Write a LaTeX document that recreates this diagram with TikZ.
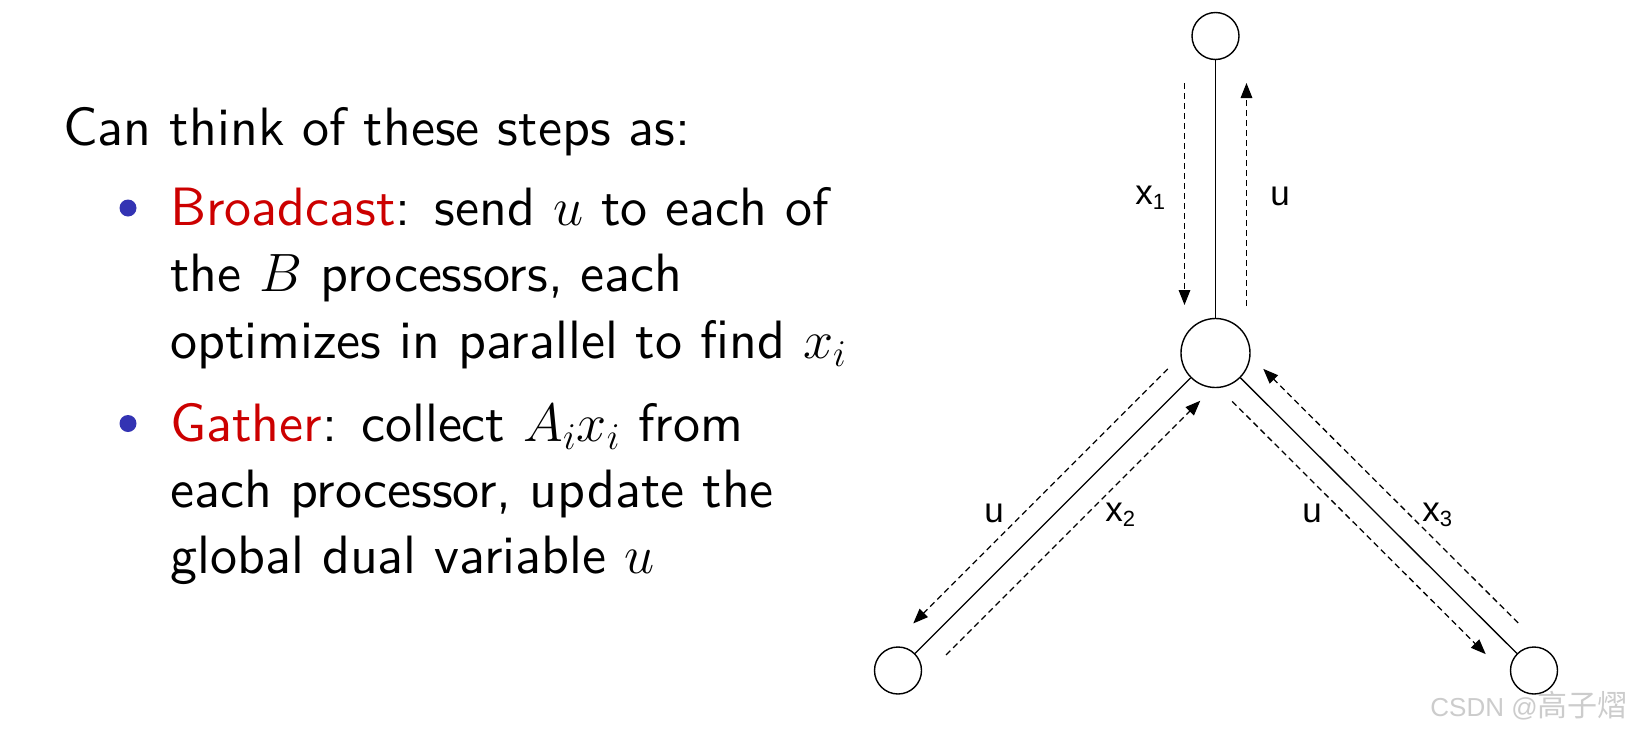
\documentclass[tikz,border=0pt]{standalone}
\usepackage{fix-cm}
\usepackage{fontspec}
\newfontfamily\lab{Liberation Sans}
\newfontfamily\cjk{Noto Sans CJK SC}
\newfontfamily\slidefont{lmsans10-regular}[Extension=.otf]
\usetikzlibrary{calc,arrows.meta}
\definecolor{alertred}{RGB}{204,0,0}
\definecolor{bulletblue}{RGB}{51,51,179}
\newcommand\lsub[1]{\raisebox{-2.5pt}{\fontsize{11}{12}\selectfont #1}}
\tikzset{
  proc/.style={circle, draw, line width=0.7pt, inner sep=0pt, fill=white},
  smallproc/.style={proc, minimum size=23.5pt},
  bigproc/.style={proc, minimum size=34.5pt},
  link/.style={line width=0.65pt},
  msg/.style={line width=0.65pt, dash pattern=on 3pt off 2pt, -{Triangle[length=7.5pt,width=5.8pt]}},
  lbl/.style={anchor=base west, inner sep=0pt, font=\lab\fontsize{17.5}{20}\selectfont},
  txt/.style={anchor=base west, inner sep=0pt, font=\slidefont\fontsize{27}{32}\selectfont},
  bul/.style={circle, fill=bulletblue, minimum size=8.5pt, inner sep=0pt}
}
\begin{document}
\begin{tikzpicture}[x=0.5pt,y=0.5pt]
\fill[white] (0,0) rectangle (1646,-734);
\useasboundingbox (0,0) rectangle (1646,-734);

% left text
\node[txt] (t0) at (63,-145) {Can think of these steps as:};
\node[bul] (bu1) at (128,-208) {};
\node[txt] (b1a) at (170,-225.7) {\textcolor{alertred}{Broadcast}: send $u$ to each of};
\node[txt] (b1b) at (170,-291.8) {the $B$ processors, each};
\node[txt] (b1c) at (170,-358) {optimizes in parallel to find $x_i$};
\node[bul] (bu2) at (128,-423.5) {};
\node[txt] (b2a) at (170,-441) {\textcolor{alertred}{Gather}: collect $A_ix_i$ from};
\node[txt] (b2b) at (170,-507) {each processor, update the};
\node[txt] (b2c) at (170,-573) {global dual variable $u$};

% tree
\node[smallproc] (T) at (1215.5,-36) {};
\node[bigproc] (C) at (1215.5,-353) {};
\node[smallproc] (L) at (898,-670.5) {};
\node[smallproc] (R) at (1534,-670.5) {};

\draw[link] (T) -- (C);
\draw[link] (C) -- (L);
\draw[link] (C) -- (R);

% vertical messages
\draw[msg] ($(C)!135pt!(T)!15.5pt!90:(T)$) -- ($(C)!24pt!(T)!15.5pt!90:(T)$);
\draw[msg] ($(C)!23.5pt!(T)!15.5pt!-90:(T)$) -- ($(C)!135pt!(T)!15.5pt!-90:(T)$);
% left messages
\draw[msg] ($(C)!22.5pt!(L)!11.25pt!-90:(L)$) -- ($(C)!202.5pt!(L)!11.25pt!-90:(L)$);
\draw[msg] ($(C)!202pt!(L)!11.5pt!90:(L)$) -- ($(C)!22.25pt!(L)!11.5pt!90:(L)$);
% right messages
\draw[msg] ($(C)!202.5pt!(R)!11.25pt!90:(R)$) -- ($(C)!22.5pt!(R)!11.25pt!90:(R)$);
\draw[msg] ($(C)!23pt!(R)!11.25pt!-90:(R)$) -- ($(C)!202pt!(R)!11.25pt!-90:(R)$);

% labels
\node[lbl] (lx1) at (1135,-204) {x\lsub{1}};
\node[lbl] (lu1) at (1270,-205) {u};
\node[lbl] (lu2) at (984,-522) {u};
\node[lbl] (lx2) at (1105,-521) {x\lsub{2}};
\node[lbl] (lu3) at (1302,-522) {u};
\node[lbl] (lx3) at (1422,-521) {x\lsub{3}};

% watermark
\node[anchor=base west, inner sep=0pt, text=black!20] (wm) at (1430,-716)
  {{\lab\fontsize{13}{14}\selectfont CSDN @}{\cjk\fontsize{15}{16}\selectfont 高子熠}};
\end{tikzpicture}
\end{document}
